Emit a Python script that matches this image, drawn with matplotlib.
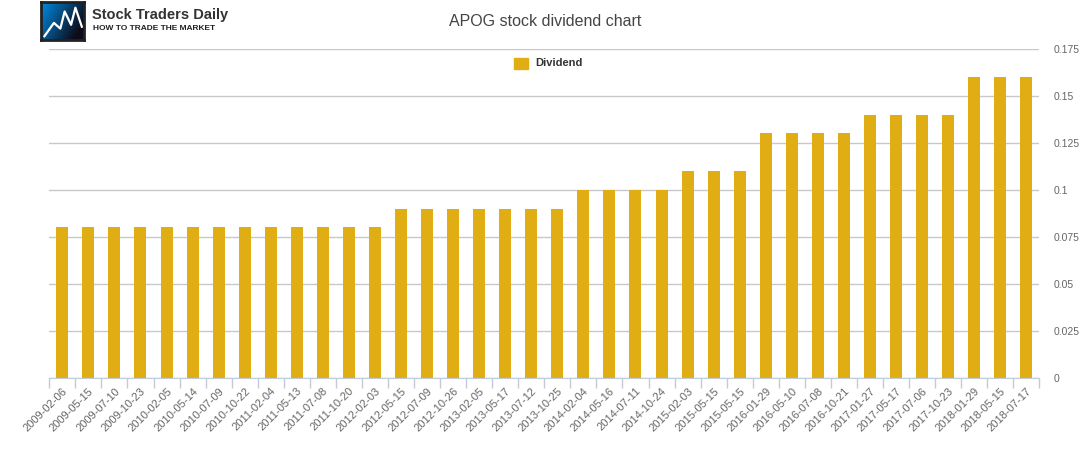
import matplotlib.pyplot as plt
import numpy as np
from matplotlib.patches import Rectangle

plt.rcParams['font.family'] = ['Liberation Sans', 'DejaVu Sans']

dates = ["2009-02-06", "2009-05-15", "2009-07-10", "2009-10-23", "2010-02-05",
         "2010-05-14", "2010-07-09", "2010-10-22", "2011-02-04", "2011-05-13",
         "2011-07-08", "2011-10-20", "2012-02-03", "2012-05-15", "2012-07-09",
         "2012-10-26", "2013-02-05", "2013-05-17", "2013-07-12", "2013-10-25",
         "2014-02-04", "2014-05-16", "2014-07-11", "2014-10-24", "2015-02-03",
         "2015-05-15", "2015-05-15", "2016-01-29", "2016-05-10", "2016-07-08",
         "2016-10-21", "2017-01-27", "2017-05-17", "2017-07-06", "2017-10-23",
         "2018-01-29", "2018-05-15", "2018-07-17"]
dividend = [0.08] * 13 + [0.09] * 7 + [0.10] * 4 + [0.11] * 3 + [0.13] * 4 + [0.14] * 4 + [0.16] * 3
yticks = [0, 0.025, 0.05, 0.075, 0.1, 0.125, 0.15, 0.175]
ytick_labels = ["0", "0.025", "0.05", "0.075", "0.1", "0.125", "0.15", "0.175"]

bar_color = '#E1AD14'
text_color = '#666666'
W, H = 1091, 450

fig = plt.figure(figsize=(W / 100, H / 100), dpi=100)
ax = fig.add_axes([49.3 / W, 1 - 377.5 / H, (1039.3 - 49.3) / W, (377.5 - 49) / H])

x = np.arange(len(dates))
ax.bar(x, dividend, width=0.46, color=bar_color, zorder=2, label='Dividend')

ax.set_xlim(-0.5, len(dates) - 0.5)
ax.set_ylim(0, 0.175)

ax.set_xticks(x)
ax.set_xticklabels(dates, rotation=45, ha='right', rotation_mode='anchor',
                   fontsize=8, color=text_color)
ax.tick_params(axis='x', which='major', length=0, pad=6)
ax.set_xticks(np.arange(len(dates) + 1) - 0.5, minor=True)
ax.tick_params(axis='x', which='minor', length=7, color='#C0CCDA', width=1)

ax.yaxis.tick_right()
ax.set_yticks(yticks)
ax.set_yticklabels(ytick_labels, fontsize=7.5, color=text_color)
ax.tick_params(axis='y', length=0, pad=10)
ax.grid(axis='y', color='#C8C8C8', linewidth=1, zorder=0)

for s in ['top', 'left', 'right']:
    ax.spines[s].set_visible(False)
ax.spines['bottom'].set_color('#C0CCDA')

fig.text(545 / W, 1 - 22 / H, "APOG stock dividend chart", ha='center', va='center',
         fontsize=11.5, color='#444444')

# legend
fig.patches.append(Rectangle((514 / W, 1 - 69 / H), 14 / W, 11 / H,
                             transform=fig.transFigure, color=bar_color))
fig.text(535 / W, 1 - 63 / H, "Dividend", ha='left', va='center', fontsize=8,
         fontweight='bold', color='#333333')

# logo
lax = fig.add_axes([41 / W, 1 - 40 / H, 43 / W, 38 / H])
grad = np.linspace(0, 1, 64)
gx, gy = np.meshgrid(grad, grad)
g = np.clip(gx * 0.8 + (1 - gy) * 0.4, 0, 1)
img = np.zeros((64, 64, 3))
img[..., 0] = 0.0 * (1 - g) + 0.05 * g
img[..., 1] = 0.55 * (1 - g) + 0.05 * g
img[..., 2] = 0.9 * (1 - g) + 0.1 * g
lax.imshow(img, extent=[0, 1, 0, 1], origin='lower', aspect='auto')
lax.plot([0.08, 0.3, 0.45, 0.55, 0.7, 0.8, 0.95], [0.1, 0.45, 0.3, 0.75, 0.4, 0.85, 0.35],
         color='white', lw=1.6)
lax.set_xlim(0, 1)
lax.set_ylim(0, 1)
lax.set_xticks([])
lax.set_yticks([])
for s in lax.spines.values():
    s.set_color('#222222')
    s.set_linewidth(2)

fig.text(92 / W, 1 - 15 / H, "Stock Traders Daily", ha='left', va='center',
         fontsize=10.5, fontweight='bold', color='#333333')
fig.text(93 / W, 1 - 29 / H, "HOW TO TRADE THE MARKET", ha='left', va='center',
         fontsize=6, fontweight='bold', color='#222222')

fig.savefig('out.png', dpi=100)
